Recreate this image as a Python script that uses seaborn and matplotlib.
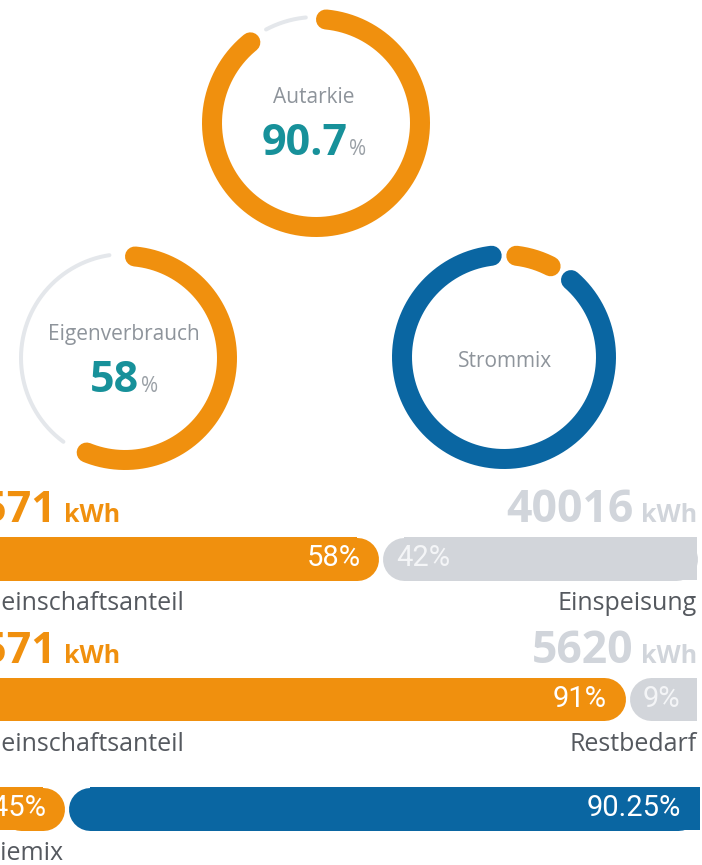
import numpy as np
import matplotlib
matplotlib.use('Agg')
import matplotlib.pyplot as plt
import seaborn as sns

sns.set_theme(style='white')
plt.rcParams['font.family'] = ['Open Sans', 'DejaVu Sans']

# ---------------- data ----------------
community_kwh = 54571      # Gemeinschaftsanteil
feed_in_kwh = 40016        # Einspeisung
residual_kwh = 5620        # Restbedarf
mix_names = ['Gemeinschaft', 'Netz']
mix_shares = [9.45, 90.25]  # Strommix in %

self_use = community_kwh / (community_kwh + feed_in_kwh) * 100
autarky = community_kwh / (community_kwh + residual_kwh) * 100

# ---------------- style ----------------
ORANGE = '#F0900E'
BLUE = '#0A66A2'
TEAL = '#17919A'
TRACK = '#E4E7EB'
BAR_GRAY = '#D2D5DA'
KWH_GRAY = '#D1D5DB'
LABEL = '#55595F'
RING_LABEL = '#8E949B'

W, H = 702, 865
fig = plt.figure(figsize=(W / 100, H / 100), dpi=100)
fig.patch.set_facecolor('white')
renderer = fig.canvas.get_renderer()

RING_LW = 20 * 0.72
TRACK_LW = 4 * 0.72


def ring_axes(cx, cy, half=125):
    ax = fig.add_axes([(cx - half) / W, (H - cy - half) / H, 2 * half / W, 2 * half / H],
                      projection='polar')
    ax.set_theta_zero_location('N')
    ax.set_theta_direction(-1)
    ax.set_axis_off()
    return ax


def arc(ax, a0, a1, r, color, lw):
    theta = np.linspace(a0, a1, 240)
    sns.lineplot(x=theta, y=np.full_like(theta, r), ax=ax, color=color, linewidth=lw,
                 solid_capstyle='round', sort=False, estimator=None)


def gauge(ax, value, r, color, extra=0.0):
    ax.set_ylim(0, 125)
    inset = 10 / r
    end = value / 100 * 2 * np.pi
    arc(ax, inset, end - inset, r, color, RING_LW)
    arc(ax, end + inset + extra, 2 * np.pi - inset - extra, r + 2, TRACK, TRACK_LW)


# Autarkie
ax1 = ring_axes(316, 123)
gauge(ax1, autarky, 104, ORANGE)

# Eigenverbrauch
ax2 = ring_axes(125, 358)
gauge(ax2, self_use, 102, ORANGE, extra=np.radians(3))

# Strommix
ax3 = ring_axes(504, 357)
ax3.set_ylim(0, 125)
r3 = 102
inset = 10 / r3 + np.radians(1.3)
bounds = np.cumsum([0] + mix_shares) / sum(mix_shares) * 2 * np.pi
for k, c in enumerate([ORANGE, BLUE]):
    arc(ax3, bounds[k] + inset, bounds[k + 1] - inset, r3, c, RING_LW)

# ---------------- text canvas ----------------
cv = fig.add_axes([0, 0, 1, 1], zorder=10)
cv.set_xlim(0, W)
cv.set_ylim(H, 0)
cv.set_axis_off()


def run(x, y, pieces, ha='left', gap=0):
    texts = [cv.text(0, y, s, va='baseline', ha='left', **kw) for s, kw in pieces]
    widths = [t.get_window_extent(renderer).width for t in texts]
    total = sum(widths) + gap * (len(texts) - 1)
    start = {'left': x, 'right': x - total, 'center': x - total / 2}[ha]
    for t, w in zip(texts, widths):
        t.set_x(start)
        start += w + gap


ring_lab = dict(fontsize=15, color=RING_LABEL)
big = dict(fontsize=31, color=TEAL, fontweight='bold')
pct = dict(fontsize=15, color='#9AA0A6')

cv.text(314, 103, 'Autarkie', ha='center', va='baseline', **ring_lab)
run(314, 155, [(f'{autarky:.1f}', big), ('%', pct)], ha='center', gap=2)

cv.text(124, 340, 'Eigenverbrauch', ha='center', va='baseline', **ring_lab)
run(124, 392, [(f'{self_use:.0f}', big), ('%', pct)], ha='center', gap=2)

cv.text(505, 367, 'Strommix', ha='center', va='baseline', **ring_lab)

# ---------------- bars ----------------
BAR_H = 43
BAR_LW = BAR_H * 0.72
PCT_FONT = dict(fontsize=21, family=['Roboto', 'DejaVu Sans'])


def bar_row(cy, values, colors, x0, x1, labels, label_side):
    total = sum(values)
    ax = fig.add_axes([0, (H - cy - 30) / H, 1, 60 / H])
    ax.set_xlim((0 - x0) / (x1 - x0) * total, (W - x0) / (x1 - x0) * total)
    ax.set_ylim(-30, 30)
    ax.set_axis_off()
    per_px = total / (x1 - x0)
    r = BAR_H / 2 * per_px
    g = 2 * per_px
    a, b = 0, values[0]
    # left segment: square outer end, round inner end
    ax.barh(0, (b - g - r) - a, left=a, height=BAR_H, color=colors[0], linewidth=0)
    ax.plot([a + r, b - g - r], [0, 0], color=colors[0], lw=BAR_LW, solid_capstyle='round')
    # right segment: round inner end, square outer end
    a2, b2 = values[0], total
    ax.barh(0, b2 - (a2 + g + r), left=a2 + g + r, height=BAR_H, color=colors[1], linewidth=0)
    ax.plot([a2 + g + r, b2 - r], [0, 0], color=colors[1], lw=BAR_LW, solid_capstyle='round')
    # percentage labels
    ax.annotate(labels[0], (b - g, 0), xytext=(-13, 0), textcoords='offset points',
                ha='right', va='center', color='white', **PCT_FONT)
    if label_side == 'left':
        ax.annotate(labels[1], (a2 + g, 0), xytext=(10, 0), textcoords='offset points',
                    ha='left', va='center', color='#F4F5F7', **PCT_FONT)
    else:
        ax.annotate(labels[1], (b2, 0), xytext=(-14, 0), textcoords='offset points',
                    ha='right', va='center', color='white', **PCT_FONT)


def pct_labels(values):
    t = sum(values)
    return [f'{v / t * 100:.0f}%' for v in values]


bar_row(558.5, [community_kwh, feed_in_kwh], [ORANGE, BAR_GRAY], -51, 697,
        pct_labels([community_kwh, feed_in_kwh]), 'left')
bar_row(699, [community_kwh, residual_kwh], [ORANGE, BAR_GRAY], -51, 697,
        pct_labels([community_kwh, residual_kwh]), 'left')
bar_row(808.5, mix_shares, [ORANGE, BLUE], 0, 700,
        [f'{v:.2f}%' for v in mix_shares], 'right')

# kWh headers
num_o = dict(fontsize=31, fontweight='bold', color=ORANGE)
unit_o = dict(fontsize=18, fontweight='bold', color=ORANGE)
num_g = dict(fontsize=32, fontweight='bold', color=KWH_GRAY)
unit_g = dict(fontsize=18, fontweight='bold', color=KWH_GRAY)

for base, right_val in [(522, feed_in_kwh), (663, residual_kwh)]:
    cv.text(57, base, f'{community_kwh}', ha='right', va='baseline', **num_o)
    cv.text(64, base, 'kWh', ha='left', va='baseline', **unit_o)
    run(697, base, [(f'{right_val}', num_g), ('kWh', unit_g)], ha='right', gap=7)

lab = dict(fontsize=18, color=LABEL)
cv.text(-53, 610, 'Gemeinschaftsanteil', ha='left', va='baseline', **lab)
cv.text(697, 610, 'Einspeisung', ha='right', va='baseline', **lab)
cv.text(-53, 751, 'Gemeinschaftsanteil', ha='left', va='baseline', **lab)
cv.text(697, 751, 'Restbedarf', ha='right', va='baseline', **lab)
cv.text(-66, 860, 'Energiemix', ha='left', va='baseline', **lab)

fig.savefig('out.png', dpi=100, facecolor='white')
